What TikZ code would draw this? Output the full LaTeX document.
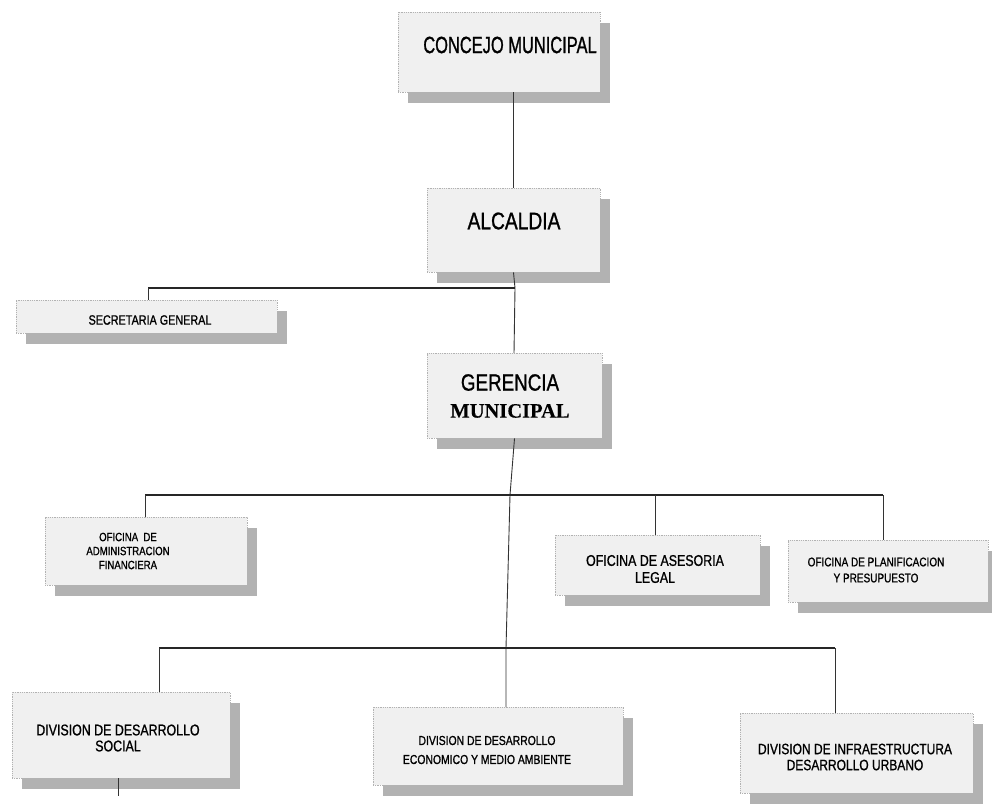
\documentclass[tikz,border=0pt]{standalone}
\usepackage{fontspec}
\setmainfont{Liberation Sans}
\newfontfamily\nar[FakeStretch=0.8,FakeBold=1]{Liberation Sans}
\newfontfamily\narc[FakeStretch=0.7,FakeBold=1]{Liberation Sans}
\newfontfamily\ser[FakeBold=0.3]{Liberation Serif}
\usetikzlibrary{shadows}
\begin{document}
\begin{tikzpicture}[x=1pt,y=-1pt,
  orgbox/.style={draw=gray!60, densely dotted, line width=0.8pt, fill=gray!12,
    inner sep=0pt,
    drop shadow={shadow xshift=10pt, shadow yshift=-11pt, fill=gray!60, opacity=1}},
  lbl/.style={inner sep=0pt, align=center, text=black, font=\nar},
  hline/.style={line width=1.5pt, black!85},
  vline/.style={line width=0.9pt, black!80}]
\useasboundingbox (0,0) rectangle (992,807);
\fill[white] (0,0) rectangle (992,807);

% boxes
\node[orgbox, minimum width=202pt, minimum height=80pt] (concejo) at (499,52) {};
\node[orgbox, minimum width=173pt, minimum height=84pt] (alcaldia) at (513.5,230) {};
\node[orgbox, minimum width=261pt, minimum height=33pt] (secretaria) at (146.5,316.5) {};
\node[orgbox, minimum width=175pt, minimum height=85pt] (gerencia) at (514.5,395.5) {};
\node[orgbox, minimum width=202pt, minimum height=68pt] (admin) at (146,551) {};
\node[orgbox, minimum width=205pt, minimum height=60pt] (asesoria) at (657.5,565) {};
\node[orgbox, minimum width=200pt, minimum height=62pt] (planif) at (888,571) {};
\node[orgbox, minimum width=218pt, minimum height=86pt] (social) at (121,735) {};
\node[orgbox, minimum width=250pt, minimum height=78pt] (econ) at (498,746) {};
\node[orgbox, minimum width=233pt, minimum height=80pt] (infra) at (856.5,753) {};

% texts
\node[lbl, font=\narc\fontsize{23.5}{26}\selectfont] (concejo-t) at (510,45) {CONCEJO MUNICIPAL};
\node[lbl, font=\nar\fontsize{24}{26}\selectfont] (alcaldia-t) at (514,221) {ALCALDIA};
\node[lbl, font=\nar\fontsize{13.5}{15}\selectfont] (secretaria-t) at (150,320) {SECRETARIA GENERAL};
\node[lbl, font=\nar\fontsize{23.5}{27}\selectfont] (gerencia-t) at (510,396) {GERENCIA\\{\ser\bfseries\fontsize{20.5}{25}\selectfont MUNICIPAL}};
\node[lbl, font=\nar\fontsize{12}{14}\selectfont] (admin-t) at (128,551) {OFICINA\ \ DE\\ADMINISTRACION\\FINANCIERA};
\node[lbl, font=\nar\fontsize{15.5}{17}\selectfont] (asesoria-t) at (655,569) {OFICINA DE ASESORIA\\LEGAL};
\node[lbl, font=\nar\fontsize{12.5}{16}\selectfont] (planif-t) at (876,570) {OFICINA DE PLANIFICACION\\Y PRESUPUESTO};
\node[lbl, font=\nar\fontsize{15.5}{16}\selectfont] (social-t) at (118,738) {DIVISION DE DESARROLLO\\SOCIAL};
\node[lbl, font=\nar\fontsize{13}{19}\selectfont] (econ-t) at (487,750) {DIVISION DE DESARROLLO\\ECONOMICO Y MEDIO AMBIENTE};
\node[lbl, font=\nar\fontsize{15}{16}\selectfont] (infra-t) at (855,757) {DIVISION DE INFRAESTRUCTURA\\DESARROLLO URBANO};

% junction coordinates
\coordinate (jsec) at (515,288);
\coordinate (jsecL) at (148,288);
\coordinate (jofi) at (510,495);
\coordinate (jofiL) at (145,495);
\coordinate (jofiA) at (655,495);
\coordinate (jofiR) at (883,495);
\coordinate (jdiv) at (506,648);
\coordinate (jdivL) at (159,648);
\coordinate (jdivR) at (835,648);
\coordinate (gtop) at (514,353);
\coordinate (etop) at (506,707);
\coordinate (stick) at (118,796);

% connectors
\draw[vline] (concejo.south -| alcaldia.north) -- (alcaldia.north);
\draw[vline] (alcaldia.south) -- (jsec) -- (gtop);
\draw[hline] (jsec) -- (jsecL);
\draw[vline] (jsecL) -- (jsecL |- secretaria.north);
\draw[vline] (gerencia.south) -- (jofi) -- (jdiv) -- (etop);
\draw[hline] (jofiL) -- (jofiR);
\draw[vline] (jofiL) -- (jofiL |- admin.north);
\draw[vline] (jofiA) -- (jofiA |- asesoria.north);
\draw[vline] (jofiR) -- (jofiR |- planif.north);
\draw[hline] (jdivL) -- (jdivR);
\draw[vline] (jdivL) -- (jdivL |- social.north);
\draw[vline] (jdivR) -- (jdivR |- infra.north);
\draw[vline] (stick |- social.south) -- (stick);
\end{tikzpicture}
\end{document}
